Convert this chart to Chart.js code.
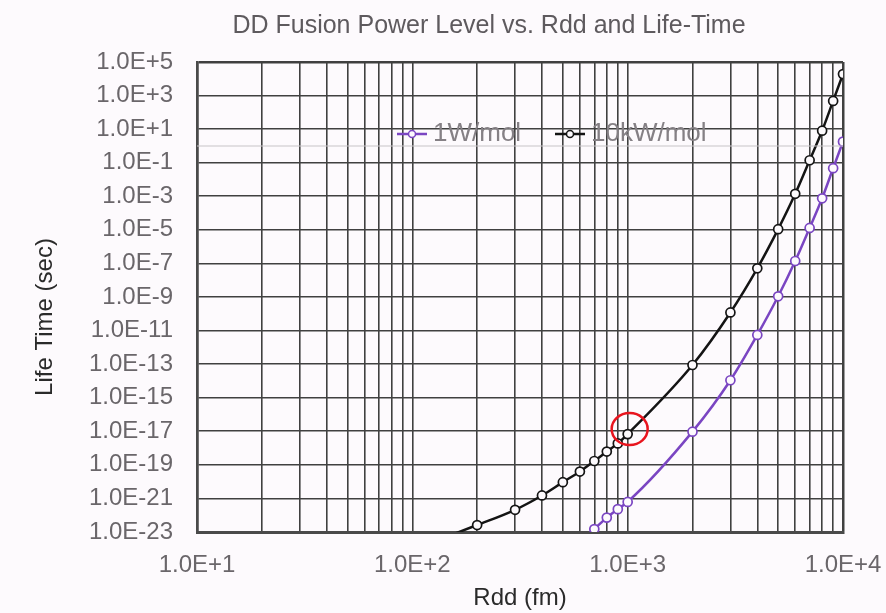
<!DOCTYPE html>
<html>
<head>
<meta charset="utf-8">
<script src="https://cdn.jsdelivr.net/npm/chart.js@4.4.1/dist/chart.umd.min.js"></script>
<style>
   html, body { margin: 0; padding: 0; background: #fdfafd; }
   canvas { display: block; }
</style>
</head>
<body>
<canvas id="fusionChart" width="886" height="613"></canvas>
<script>
// Rdd (fm) and life time (sec)
const rdd10kW = [100, 200, 300, 400, 500, 600, 700, 800, 900, 1000, 2000, 3000, 4000, 5000, 6000, 7000, 8000, 9000, 10000];
const life10kW = [8.5e-25, 2.6e-23, 2.1e-22, 1.5e-21, 9.3e-21, 4.0e-20, 1.7e-19, 6.2e-19, 1.9e-18, 6.8e-18, 8.9e-14, 1.2e-10, 5.1e-8, 1.1e-5, 1.4e-3, 0.14, 8.1, 480, 1.9e4];
const rdd1W = [600, 700, 800, 900, 1000, 2000, 3000, 4000, 5000, 6000, 7000, 8000, 9000, 10000];
const life1W = [2.5e-24, 1.5e-23, 7.2e-23, 2.3e-22, 6.2e-22, 9.5e-18, 1.1e-14, 5.5e-12, 1.1e-9, 1.4e-7, 1.3e-5, 7.6e-4, 0.047, 1.8];

const seriesNames = ['1W/mol', '10kW/mol'];
const xDecades = [1, 2, 3];          // 1.0E+1 .. 1.0E+4
const yLabelExponents = [5, 3, 1, -1, -3, -5, -7, -9, -11, -13, -15, -17, -19, -21, -23];
const circledPoint = { x: 1000, y: 6.8e-18 };

const purple = '#7a45c2';
const black = '#141414';
const bg = '#fdfafd';
const gridColor = '#404040';
const fontFamily = 'Arial, "Liberation Sans", sans-serif';

function toPoints(xs, ys) {
   return xs.map((x, i) => ({ x: x, y: ys[i] }));
}

function sci(v) {
   const e = Math.round(Math.log10(v));
   return '1.0E' + (e >= 0 ? '+' : '-') + Math.abs(e);
}

const xTicks = [];
xDecades.forEach(d => {
   for (let m = 1; m <= 9; m++) xTicks.push(m * Math.pow(10, d));
});
xTicks.push(Math.pow(10, xDecades[xDecades.length - 1] + 1));
const yTicks = yLabelExponents.map(e => Math.pow(10, e)).reverse();

const backgroundPlugin = {
   id: 'bgFill',
   beforeDraw(chart) {
      const ctx = chart.ctx;
      ctx.save();
      ctx.fillStyle = bg;
      ctx.fillRect(0, 0, chart.width, chart.height);
      ctx.restore();
   }
};

const extrasPlugin = {
   id: 'extras',
   afterDatasetsDraw(chart) {
      const ctx = chart.ctx;
      const area = chart.chartArea;
      const xs = chart.scales.x, ys = chart.scales.y;
      ctx.save();

      // chart title
      ctx.font = '25px ' + fontFamily;
      ctx.fillStyle = '#5e5a5e';
      ctx.textAlign = 'center';
      ctx.textBaseline = 'middle';
      ctx.fillText('DD Fusion Power Level vs. Rdd and Life-Time', 489, 26);
      ctx.textAlign = 'left';

      // faint stray line under the legend
      ctx.strokeStyle = '#c8c4c8';
      ctx.lineWidth = 1.2;
      ctx.beginPath();
      ctx.moveTo(area.left, area.top + 84);
      ctx.lineTo(area.right, area.top + 84);
      ctx.stroke();

      // legend inside the plot
      const ly = area.top + 72;
      const items = [
         { name: seriesNames[0], color: purple, x0: 397 },
         { name: seriesNames[1], color: black, x0: 555 }
      ];
      ctx.font = '26px ' + fontFamily;
      items.forEach(it => {
         ctx.strokeStyle = it.color;
         ctx.lineWidth = 2.5;
         ctx.beginPath();
         ctx.moveTo(it.x0, ly);
         ctx.lineTo(it.x0 + 30, ly);
         ctx.stroke();
         ctx.beginPath();
         ctx.arc(it.x0 + 15, ly, 3.5, 0, Math.PI * 2);
         ctx.fillStyle = bg;
         ctx.fill();
         ctx.lineWidth = 1.5;
         ctx.stroke();
         ctx.fillStyle = '#858085';
         ctx.fillText(it.name, it.x0 + 36, ly);
      });

      // red circle marking the 1000 fm point
      const cx = xs.getPixelForValue(circledPoint.x) + 2;
      const cy = ys.getPixelForValue(circledPoint.y) - 5;
      ctx.strokeStyle = '#e8141e';
      ctx.lineWidth = 2.5;
      ctx.beginPath();
      ctx.ellipse(cx, cy, 18, 16, 0, 0, Math.PI * 2);
      ctx.stroke();

      // y axis title
      ctx.translate(45, 317);
      ctx.rotate(-Math.PI / 2);
      ctx.textAlign = 'center';
      ctx.fillStyle = '#2a2a2a';
      ctx.font = '24px ' + fontFamily;
      ctx.fillText('Life Time (sec)', 0, 0);
      ctx.restore();
   }
};

const edgeWidth = (ctx) => (ctx.index === 0 || ctx.index === ctx.chart.scales[ctx.scale.id].ticks.length - 1) ? 2.5 : 1.6;

new Chart(document.getElementById('fusionChart').getContext('2d'), {
   type: 'line',
   data: {
      datasets: [{
         label: seriesNames[0],
         data: toPoints(rdd1W, life1W),
         borderColor: purple,
         backgroundColor: bg,
         borderWidth: 2.5,
         pointRadius: 4.5,
         pointBorderWidth: 1.7,
         pointBackgroundColor: bg,
         cubicInterpolationMode: 'monotone'
      }, {
         label: seriesNames[1],
         data: toPoints(rdd10kW, life10kW),
         borderColor: black,
         backgroundColor: bg,
         borderWidth: 2.5,
         pointRadius: 4.5,
         pointBorderWidth: 1.7,
         pointBackgroundColor: bg,
         cubicInterpolationMode: 'monotone'
      }]
   },
   options: {
      responsive: false,
      animation: false,
      devicePixelRatio: 1,
      layout: { padding: { top: 62, right: 43, bottom: 0, left: 0 } },
      scales: {
         x: {
            type: 'logarithmic',
            min: 10,
            max: 10000,
            afterBuildTicks: scale => { scale.ticks = xTicks.map(v => ({ value: v })); },
            afterFit: scale => {
               scale.height = 81;
               scale.paddingLeft = 0;
               scale.paddingRight = 0;
            },
            grid: { color: gridColor, lineWidth: edgeWidth, drawTicks: false },
            border: { color: '#4a4a4a', width: 3 },
            ticks: {
               autoSkip: false,
               maxRotation: 0,
               padding: 19,
               color: '#6a666a',
               font: { family: fontFamily, size: 24 },
               callback: v => {
                  const l = Math.log10(v);
                  return Math.abs(l - Math.round(l)) < 1e-9 ? sci(v) : '';
               }
            },
            title: {
               display: true,
               text: 'Rdd (fm)',
               color: '#2a2a2a',
               font: { family: fontFamily, size: 24 },
               padding: { top: 0, bottom: 0 }
            }
         },
         y: {
            type: 'logarithmic',
            min: 1e-23,
            max: 1e5,
            afterBuildTicks: scale => { scale.ticks = yTicks.map(v => ({ value: v })); },
            afterFit: scale => {
               scale.width = 197;
               scale.paddingTop = 0;
               scale.paddingBottom = 0;
            },
            grid: { color: gridColor, lineWidth: edgeWidth, drawTicks: false },
            border: { color: '#4a4a4a', width: 2.5 },
            ticks: {
               autoSkip: false,
               padding: 24,
               color: '#6a666a',
               font: { family: fontFamily, size: 24 },
               callback: v => sci(v)
            }
         }
      },
      plugins: {
         legend: { display: false },
         tooltip: { enabled: false },
         title: { display: false }
      }
   },
   plugins: [backgroundPlugin, extrasPlugin]
});
</script>
</body>
</html>
